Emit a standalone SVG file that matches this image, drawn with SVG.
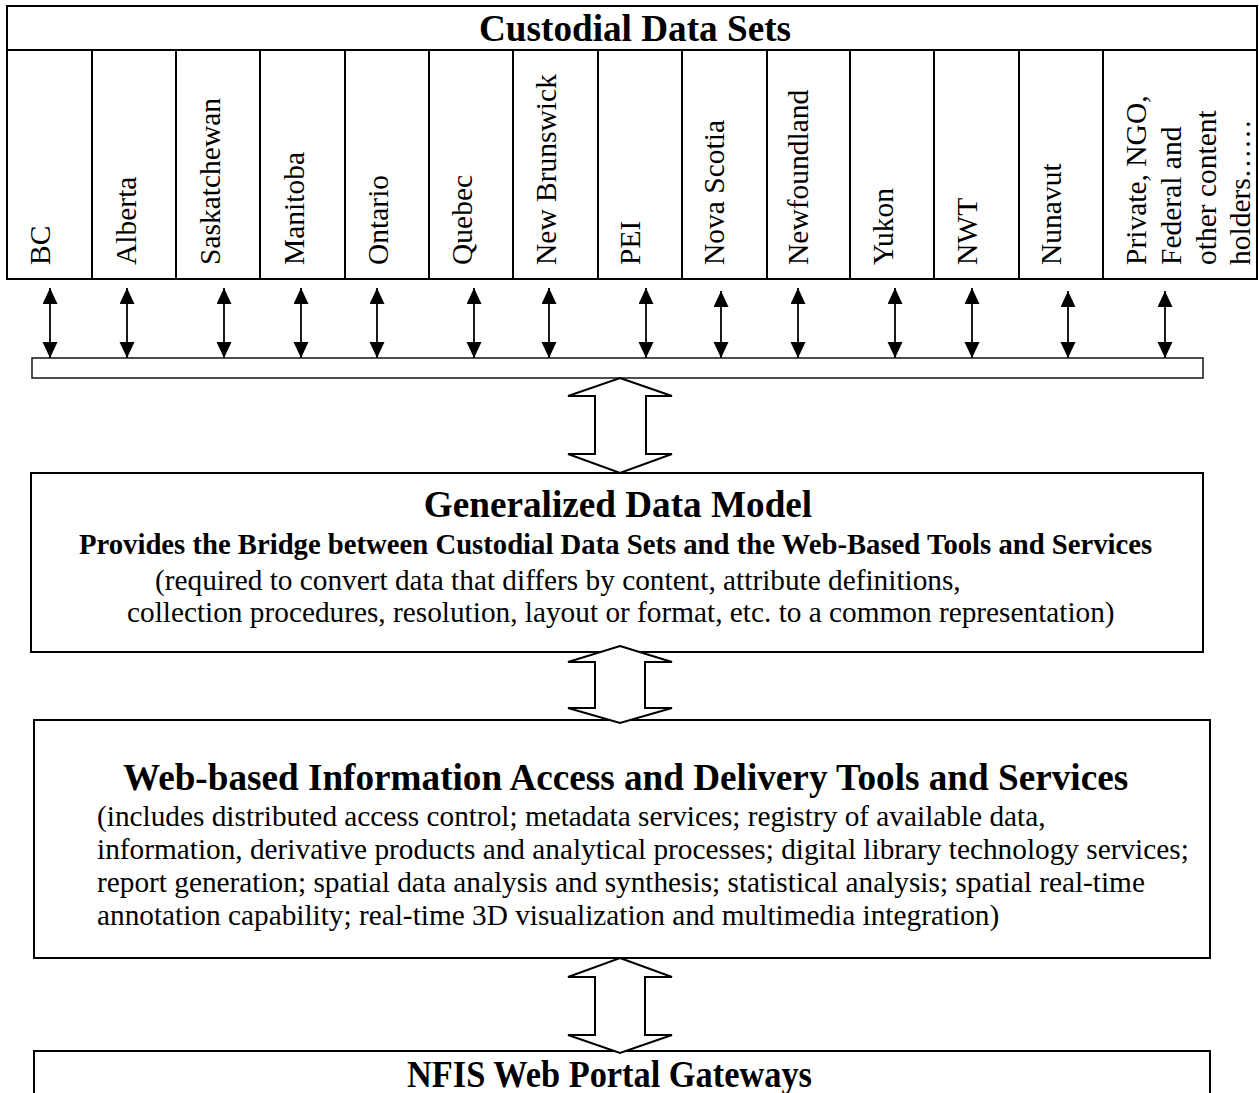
<svg xmlns="http://www.w3.org/2000/svg" width="1259" height="1093" viewBox="0 0 1259 1093">
  <style>
    text { font-family: "Liberation Serif", "Times New Roman", serif; fill: #000; }
    .title { font-size: 37.2px; font-weight: bold; }
    .sub { font-size: 28.7px; font-weight: bold; }
    .body { font-size: 29.3px; }
    .col { font-size: 29.5px; }
    .box { fill: #fff; stroke: #000; stroke-width: 2; }
    .thin { fill: #fff; stroke: #222; stroke-width: 1.6; }
    .link { stroke: #000; stroke-width: 1.8; fill: none; marker-start: url(#tip); marker-end: url(#tip); }
    .big { fill: #fff; stroke: #000; stroke-width: 2; stroke-linejoin: miter; }
  </style>
  <defs>
    <marker id="tip" markerUnits="userSpaceOnUse" markerWidth="16" markerHeight="16" refX="16" refY="7.5" orient="auto-start-reverse">
      <path d="M0,0 L16,7.5 L0,15 Z" fill="#000"/>
    </marker>
  </defs>

  <rect width="1259" height="1093" fill="#fff"/>

  <!-- Custodial data sets: header with one column per holder -->
  <g id="custodial">
    <rect class="box" x="7" y="6" width="1250" height="273"/>
    <line x1="7" y1="50" x2="1257" y2="50" stroke="#000" stroke-width="2"/>
    <g stroke="#000" stroke-width="2">
      <line x1="92" y1="50" x2="92" y2="279"/>
      <line x1="176" y1="50" x2="176" y2="279"/>
      <line x1="260" y1="50" x2="260" y2="279"/>
      <line x1="345" y1="50" x2="345" y2="279"/>
      <line x1="429" y1="50" x2="429" y2="279"/>
      <line x1="513" y1="50" x2="513" y2="279"/>
      <line x1="598" y1="50" x2="598" y2="279"/>
      <line x1="682" y1="50" x2="682" y2="279"/>
      <line x1="767" y1="50" x2="767" y2="279"/>
      <line x1="850" y1="50" x2="850" y2="279"/>
      <line x1="934" y1="50" x2="934" y2="279"/>
      <line x1="1019" y1="50" x2="1019" y2="279"/>
      <line x1="1103" y1="50" x2="1103" y2="279"/>
    </g>
    <text class="title" x="635" y="41" text-anchor="middle" font-size="36.5">Custodial Data Sets</text>
  </g>

  <g id="col-bc"><text class="col" transform="translate(50,265) rotate(-90)">BC</text></g>
  <g id="col-alberta"><text class="col" transform="translate(136,265) rotate(-90)">Alberta</text></g>
  <g id="col-saskatchewan"><text class="col" transform="translate(220,265) rotate(-90)">Saskatchewan</text></g>
  <g id="col-manitoba"><text class="col" transform="translate(304,265) rotate(-90)">Manitoba</text></g>
  <g id="col-ontario"><text class="col" transform="translate(388,265) rotate(-90)">Ontario</text></g>
  <g id="col-quebec"><text class="col" transform="translate(472,265) rotate(-90)">Quebec</text></g>
  <g id="col-new-brunswick"><text class="col" transform="translate(556,265) rotate(-90)">New Brunswick</text></g>
  <g id="col-pei"><text class="col" transform="translate(640,265) rotate(-90)">PEI</text></g>
  <g id="col-nova-scotia"><text class="col" transform="translate(724,265) rotate(-90)">Nova Scotia</text></g>
  <g id="col-newfoundland"><text class="col" transform="translate(808,265) rotate(-90)">Newfoundland</text></g>
  <g id="col-yukon"><text class="col" transform="translate(893,265) rotate(-90)">Yukon</text></g>
  <g id="col-nwt"><text class="col" transform="translate(977,265) rotate(-90)">NWT</text></g>
  <g id="col-nunavut"><text class="col" transform="translate(1061,265) rotate(-90)">Nunavut</text></g>
  <g id="col-other">
    <text class="col" transform="translate(1146,265) rotate(-90)">Private, NGO,</text>
    <text class="col" transform="translate(1181,265) rotate(-90)">Federal and</text>
    <text class="col" transform="translate(1216,265) rotate(-90)">other content</text>
    <text class="col" transform="translate(1250,265) rotate(-90)">holders……</text>
  </g>

  <!-- collector bar -->
  <g id="collector">
    <rect class="thin" x="32" y="358" width="1171" height="20"/>
  </g>

  <!-- Generalized data model -->
  <g id="data-model">
    <rect class="box" x="31" y="473" width="1172" height="179"/>
    <text class="title" x="618" y="517" text-anchor="middle">Generalized Data Model</text>
    <text class="sub" x="79" y="554">Provides the Bridge between Custodial Data Sets and the Web-Based Tools and Services</text>
    <text class="body" x="155" y="590">(required to convert data that differs by content, attribute definitions,</text>
    <text class="body" x="127" y="622">collection procedures, resolution, layout or format, etc. to a common representation)</text>
  </g>

  <!-- Web-based tools and services -->
  <g id="web-tools">
    <rect class="box" x="34" y="720" width="1176" height="238"/>
    <text class="title" x="123" y="790">Web-based Information Access and Delivery Tools and Services</text>
    <text class="body" x="97" y="826">(includes distributed access control; metadata services; registry of available data,</text>
    <text class="body" x="97" y="859">information, derivative products and analytical processes; digital library technology services;</text>
    <text class="body" x="97" y="892">report generation; spatial data analysis and synthesis; statistical analysis; spatial real-time</text>
    <text class="body" x="97" y="925">annotation capability; real-time 3D visualization and multimedia integration)</text>
  </g>

  <!-- NFIS portal gateways: heading set in a narrowed run -->
  <g id="nfis-portal">
    <rect class="box" x="34" y="1051" width="1176" height="60"/>
    <text class="title" x="407" y="1087" font-size="35" textLength="405" lengthAdjust="spacingAndGlyphs">NFIS Web Portal Gateways</text>
  </g>

  <!-- connectors -->
  <g id="connectors">
    <line class="link" x1="50" y1="288" x2="50" y2="358"/>
    <line class="link" x1="127" y1="288" x2="127" y2="358" stroke-width="1.4"/>
    <line class="link" x1="224" y1="288" x2="224" y2="358"/>
    <line class="link" x1="301" y1="288" x2="301" y2="358"/>
    <line class="link" x1="377" y1="288" x2="377" y2="358"/>
    <line class="link" x1="474" y1="288" x2="474" y2="358"/>
    <line class="link" x1="549" y1="288" x2="549" y2="358"/>
    <line class="link" x1="646" y1="288" x2="646" y2="358"/>
    <line class="link" x1="721" y1="291" x2="721" y2="358"/>
    <line class="link" x1="798" y1="288" x2="798" y2="358"/>
    <line class="link" x1="895" y1="288" x2="895" y2="358"/>
    <line class="link" x1="972" y1="288" x2="972" y2="358"/>
    <line class="link" x1="1068" y1="291" x2="1068" y2="358"/>
    <line class="link" x1="1165" y1="291" x2="1165" y2="358"/>

    <polygon class="big" points="620,378 672,396 646,396 646,454 672,454 620,473 568,454 595,454 595,396 568,396"/>
    <polygon class="big" points="620,646 672,662 645,662 645,708 672,708 620,723 568,708 595,708 595,662 568,662"/>
    <polygon class="big" points="620,958 672,977 645,977 645,1035 672,1035 620,1053 568,1035 595,1035 595,977 568,977"/>
  </g>
</svg>
